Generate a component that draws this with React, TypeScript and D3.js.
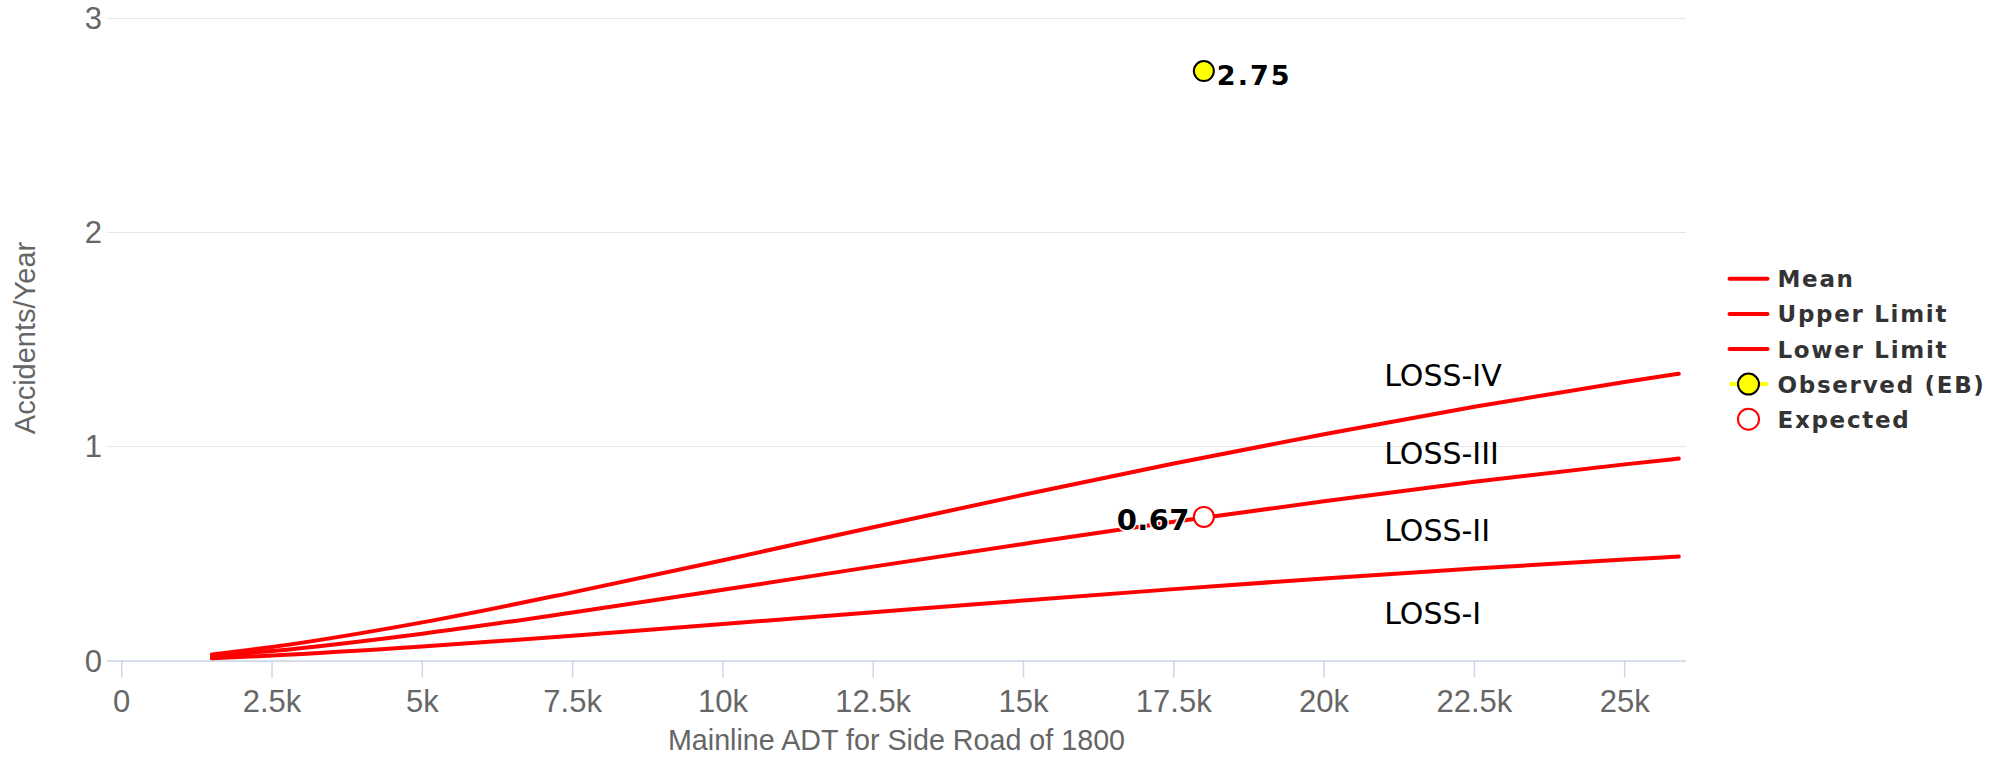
import React from "react";
import * as d3 from "d3";

// ---- data ----
const adt = [1500, 2500, 5000, 7500, 10000, 12500, 15000, 17500, 20000, 22500, 25000, 25900];
const meanValues = [0.02, 0.044, 0.125, 0.224, 0.33, 0.438, 0.544, 0.647, 0.743, 0.834, 0.915, 0.942];
const upperValues = [0.028, 0.063, 0.178, 0.318, 0.468, 0.622, 0.773, 0.919, 1.056, 1.184, 1.299, 1.338];
const lowerValues = [0.01, 0.023, 0.065, 0.115, 0.17, 0.225, 0.28, 0.333, 0.383, 0.429, 0.471, 0.485];
const observedPoint = [18000, 2.75];
const expectedPoint = [18000, 0.67];
const xTicks = [0, 2500, 5000, 7500, 10000, 12500, 15000, 17500, 20000, 22500, 25000];
const xTickLabels = ["0", "2.5k", "5k", "7.5k", "10k", "12.5k", "15k", "17.5k", "20k", "22.5k", "25k"];
const yTicks = [0, 1, 2, 3];
const lossNames = ["LOSS-IV", "LOSS-III", "LOSS-II", "LOSS-I"];
const lossY = [1.28, 0.917, 0.558, 0.171];
const lossX = 21000;
const legendNames = ["Mean", "Upper Limit", "Lower Limit", "Observed (EB)", "Expected"];

const W = 2006;
const H = 758;
const plot = { left: 107, right: 1686, top: 17.5, bottom: 660.5 };

export default function App() {
  const x = d3.scaleLinear().domain([-245, 26020]).range([plot.left, plot.right]);
  const y = d3.scaleLinear().domain([0, 3]).range([plot.bottom, plot.top]);
  const line = d3
    .line<[number, number]>()
    .x((d) => x(d[0]))
    .y((d) => y(d[1]))
    .curve(d3.curveMonotoneX);
  const series = [meanValues, upperValues, lowerValues].map((vals) =>
    line(adt.map((a, i) => [a, vals[i]] as [number, number]))
  );
  const tickFont = "'Liberation Sans', Arial, sans-serif";
  const legendY0 = 278.8;
  const legendStep = 35.1;
  const ox = x(observedPoint[0]);
  const oy = y(observedPoint[1]);
  const ex = x(expectedPoint[0]);
  const ey = y(expectedPoint[1]);
  return (
    <svg
      width={W}
      height={H}
      style={{ position: "fixed", left: 0, top: 0, background: "#fff" }}
    >
      <rect x={0} y={0} width={W} height={H} fill="#ffffff" />
      {/* grid */}
      {yTicks.map((t) => (
        <line
          key={"g" + t}
          x1={plot.left}
          x2={plot.right}
          y1={Math.round(y(t)) + 0.5}
          y2={Math.round(y(t)) + 0.5}
          stroke="#e6e6e6"
          strokeWidth={1}
        />
      ))}
      {/* x axis */}
      <line
        x1={plot.left}
        x2={plot.right}
        y1={plot.bottom + 0.5}
        y2={plot.bottom + 0.5}
        stroke="#ccd6eb"
        strokeWidth={1.5}
      />
      {xTicks.map((t, i) => (
        <g key={"xt" + t}>
          <line
            x1={x(t)}
            x2={x(t)}
            y1={plot.bottom}
            y2={plot.bottom + 17}
            stroke="#ccd6eb"
            strokeWidth={1.5}
          />
          <text
            x={x(t)}
            y={712}
            textAnchor="middle"
            fontFamily={tickFont}
            fontSize={31}
            fill="#666666"
          >
            {xTickLabels[i]}
          </text>
        </g>
      ))}
      {yTicks.map((t) => (
        <text
          key={"yl" + t}
          x={102}
          y={y(t) + 11}
          textAnchor="end"
          fontFamily={tickFont}
          fontSize={31}
          fill="#666666"
        >
          {t}
        </text>
      ))}
      <text
        x={(plot.left + plot.right) / 2}
        y={750}
        textAnchor="middle"
        fontFamily={tickFont}
        fontSize={28.7}
        fill="#666666"
      >
        Mainline ADT for Side Road of 1800
      </text>
      <text
        transform={`translate(35, ${(plot.top + plot.bottom) / 2 - 1}) rotate(-90)`}
        textAnchor="middle"
        fontFamily={tickFont}
        fontSize={29}
        fill="#666666"
      >
        Accidents/Year
      </text>
      {/* series lines */}
      {series.map((d, i) => (
        <path
          key={"s" + i}
          d={d || ""}
          fill="none"
          stroke="#ff0000"
          strokeWidth={4}
          strokeLinecap="round"
          strokeLinejoin="round"
        />
      ))}
      {/* loss labels */}
      {lossNames.map((n, i) => (
        <text
          key={n}
          x={x(lossX)}
          y={y(lossY[i])}
          fontFamily="'DejaVu Sans', sans-serif"
          fontSize={30}
          fill="#000000"
        >
          {n}
        </text>
      ))}
      {/* expected point */}
      <circle cx={ex} cy={ey} r={10} fill="#ffffff" stroke="#ff0000" strokeWidth={2} />
      <text
        x={ex - 14}
        y={ey + 13}
        textAnchor="end"
        fontFamily="'DejaVu Sans', sans-serif"
        fontWeight="bold"
        fontSize={29}
        letterSpacing={0.4}
        fill="#000000"
        stroke="#ffffff"
        strokeWidth={3}
        style={{ paintOrder: "stroke" }}
      >
        {expectedPoint[1].toFixed(2)}
      </text>
      {/* observed point */}
      <circle cx={ox} cy={oy} r={10} fill="#ffff00" stroke="#000000" strokeWidth={2} />
      <text
        x={ox + 13}
        y={oy + 14}
        fontFamily="'DejaVu Sans', sans-serif"
        fontWeight="bold"
        fontSize={27}
        letterSpacing={2}
        fill="#000000"
      >
        {observedPoint[1].toFixed(2)}
      </text>
      {/* legend */}
      {legendNames.map((n, i) => {
        const ly = legendY0 + i * legendStep;
        return (
          <g key={n}>
            {i < 3 && (
              <line x1={1729.5} x2={1767.5} y1={ly} y2={ly} stroke="#ff0000" strokeWidth={4} strokeLinecap="round" />
            )}
            {i === 3 && (
              <>
                <line x1={1729.5} x2={1767.5} y1={ly} y2={ly} stroke="#ffff00" strokeWidth={4} />
                <circle cx={1748.5} cy={ly} r={10.5} fill="#ffff00" stroke="#000000" strokeWidth={2} />
              </>
            )}
            {i === 4 && <circle cx={1748.5} cy={ly} r={10.5} fill="#ffffff" stroke="#ff0000" strokeWidth={2} />}
            <text
              x={1777.5}
              y={ly + 8.5}
              fontFamily="'DejaVu Sans', sans-serif"
              fontWeight="bold"
              fontSize={23}
              letterSpacing={1.7}
              fill="#333333"
            >
              {n}
            </text>
          </g>
        );
      })}
    </svg>
  );
}
